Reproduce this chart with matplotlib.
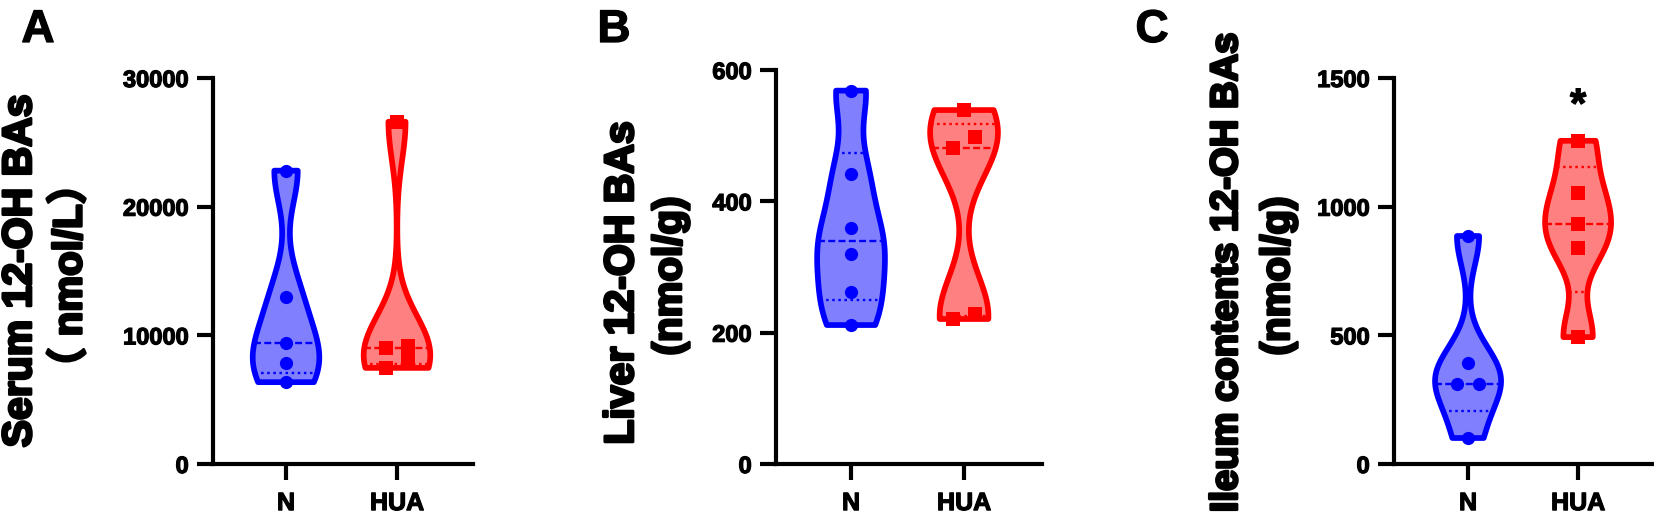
import numpy as np
import matplotlib
matplotlib.use('Agg')
import matplotlib.pyplot as plt
from matplotlib.patches import Polygon
from matplotlib import patheffects as pe

# ---------------- data ----------------
categories = ['N', 'HUA']
serum_N = [22800, 13000, 9370, 7860, 6360]
serum_HUA = [26600, 9200, 9030, 8100, 7470]
liver_N = [568.6, 441, 359.5, 320.5, 262, 211.6]
liver_HUA = [539, 497.7, 481, 229, 220.8]
ileum_N = [886, 390.6, 311, 309, 101]
ileum_HUA = [1256, 1055, 934, 840, 493]
serum_ticks = [0, 10000, 20000, 30000]
liver_ticks = [0, 200, 400, 600]
ileum_ticks = [0, 500, 1000, 1500]
ileum_sig = ['', '*']
ileum_sig_y = 1390
panel_letters = ['A', 'B', 'C']

# ---------------- style ----------------
W, H = 1654, 525
DPI = 100
plt.rcParams['lines.scale_dashes'] = False
FONT = ['Liberation Sans', 'Noto Sans CJK SC', 'DejaVu Sans']
line_cols = ['#0000FF', '#FF0000']
fill_cols = ['#8080FF', '#FF8080']
markers = ['o', 's']

fig = plt.figure(figsize=(W / DPI, H / DPI), dpi=DPI)


def px_axes(x0, x1, ytop, ybot):
    return fig.add_axes([x0 / W, 1 - ybot / H, (x1 - x0) / W, (ybot - ytop) / H])


def kde(vals, grid, factor=0.6):
    v = np.asarray(vals, float)
    n = len(v)
    sd = v.std(ddof=1)
    q1, q3 = np.percentile(v, [25, 75], method='weibull')
    h = factor * 0.9 * min(sd, (q3 - q1) / 1.34) * n ** -0.2
    return np.exp(-0.5 * ((grid[:, None] - v[None, :]) / h) ** 2).sum(1)


def jitter(ax, vals, thresh_px=13, off=0.1):
    v = np.asarray(vals, float)
    order = np.argsort(v)
    ypx = ax.transData.transform(np.c_[np.zeros_like(v), v])[:, 1]
    offs = np.zeros(len(v))
    clusters, cur = [], [order[0]]
    for i in order[1:]:
        if ypx[i] - ypx[cur[-1]] < thresh_px:
            cur.append(i)
        else:
            clusters.append(cur)
            cur = [i]
    clusters.append(cur)
    for c in clusters:
        if len(c) > 1:
            for k, i in enumerate(c):
                offs[i] = -off if k % 2 == 0 else off
    return offs


def violin(ax, pos, vals, gi, halfw=0.3):
    v = np.asarray(vals, float)
    grid = np.linspace(v.min(), v.max(), 400)
    d = kde(v, grid)
    w = d / d.max() * halfw
    xs = np.r_[pos + w, (pos - w)[::-1]]
    ys = np.r_[grid, grid[::-1]]
    ax.add_patch(Polygon(np.c_[xs, ys], closed=True, facecolor=fill_cols[gi],
                         edgecolor='none', zorder=1))
    ax.add_patch(Polygon(np.c_[xs, ys], closed=True, facecolor='none',
                         edgecolor=line_cols[gi], lw=4.1, joinstyle='round', zorder=3))
    q1, med, q3 = np.percentile(v, [25, 50, 75], method='weibull')
    for q, ls in [(med, (0, (5, 2.4))), (q1, (0, (1.8, 2.6))), (q3, (0, (1.8, 2.6)))]:
        wq = np.interp(q, grid, w)
        ax.plot([pos - wq, pos + wq], [q, q], color=line_cols[gi], lw=1.7,
                linestyle=ls, zorder=2, solid_capstyle='butt', dash_capstyle='butt')
    offs = jitter(ax, v)
    ax.plot(pos + offs, v, linestyle='none', marker=markers[gi], ms=9.5,
            color=line_cols[gi], mec=line_cols[gi], mew=0, zorder=4, clip_on=False)


light = [pe.withStroke(linewidth=0.9, foreground='black')]
heavy = [pe.withStroke(linewidth=2.0, foreground='black')]


def style_axes(ax, ymax, ticks, xlim):
    ax.set_xlim(*xlim)
    ax.set_ylim(0, ymax)
    ax.set_yticks(ticks)
    ax.set_yticklabels([str(t) for t in ticks])
    ax.set_xticks(range(len(categories)))
    ax.set_xticklabels(categories)
    for s in ['top', 'right']:
        ax.spines[s].set_visible(False)
    for s in ['left', 'bottom']:
        ax.spines[s].set_linewidth(3.0)
    ax.tick_params(axis='both', width=3.0, length=11.5, color='black')
    ax.tick_params(axis='y', labelsize=17, pad=6)
    ax.tick_params(axis='x', labelsize=18, pad=8)
    for lab in ax.get_yticklabels() + ax.get_xticklabels():
        lab.set_fontfamily(FONT)
        lab.set_fontweight('bold')
        lab.set_path_effects(light)
    ax.patch.set_alpha(0)


def ylabel(x, y, s, size):
    fig.text(x / W, 1 - y / H, s, rotation=90, ha='center', va='center',
             fontsize=size, fontweight='bold', family=FONT, path_effects=heavy)


panels = [
    dict(box=(213, 473, 78, 464), xlim=(-0.658, 1.685), ymax=30000, ticks=serum_ticks,
         data=[serum_N, serum_HUA]),
    dict(box=(776, 1042, 70, 464), xlim=(-0.664, 1.69), ymax=600, ticks=liver_ticks,
         data=[liver_N, liver_HUA]),
    dict(box=(1394, 1654, 78, 464), xlim=(-0.673, 1.69), ymax=1500, ticks=ileum_ticks,
         data=[ileum_N, ileum_HUA]),
]

axes = []
for p in panels:
    ax = px_axes(*p['box'])
    style_axes(ax, p['ymax'], p['ticks'], p['xlim'])
    for gi, vals in enumerate(p['data']):
        violin(ax, gi, vals, gi)
    axes.append(ax)

# significance marks
for gi, s in enumerate(ileum_sig):
    if s:
        axes[2].text(gi, ileum_sig_y, s, ha='center', va='center', fontsize=30,
                     fontweight='bold', family=FONT, path_effects=light)

# y labels
ylabel(20, 271, 'Serum 12-OH BAs', 29.5)
ylabel(70, 276, '（ nmol/L）', 29)
ylabel(622, 283, 'Liver 12-OH BAs', 29.5)
ylabel(670, 276, '(nmol/g)', 29)
ylabel(1227, 272, 'Ileum contents 12-OH BAs', 27.5)
ylabel(1278, 276, '(nmol/g)', 29)

# panel letters
for (x, y), letter in zip([(38, 30), (614, 30), (1152, 30)], panel_letters):
    fig.text(x / W, 1 - y / H, letter, ha='center', va='center', fontsize=33,
             fontweight='bold', family=FONT, path_effects=light)

fig.savefig('out.png', dpi=DPI, facecolor='white')
